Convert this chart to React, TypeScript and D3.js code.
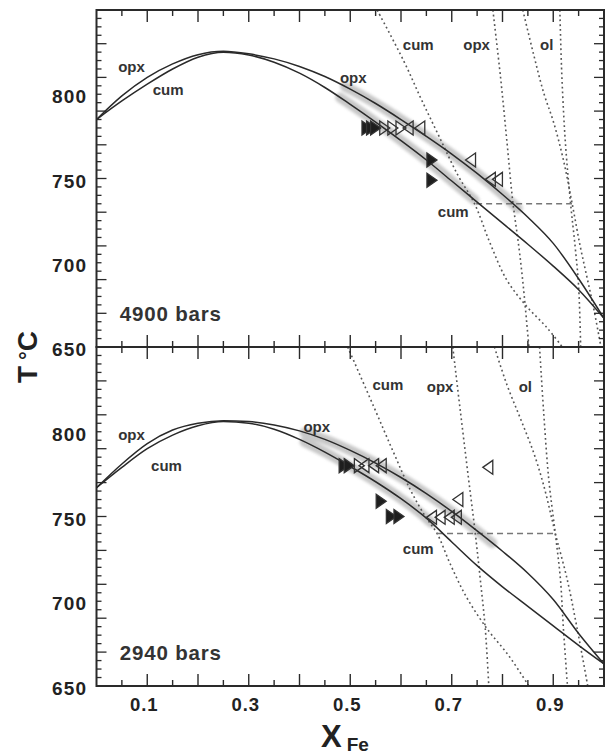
import * as d3 from "d3";

type Pt = [number, number];
type Mark = [number, number, "fillR" | "openR" | "openL"];

// axis labels
const xTickLabels = [0.1, 0.3, 0.5, 0.7, 0.9];
const yTickLabels = [650, 700, 750, 800];

// ---- 4900 bars ----
const opx4900: Pt[] = [
  [0, 785], [0.05, 799], [0.1, 810], [0.15, 818], [0.2, 823.5], [0.25, 825.5], [0.3, 824],
  [0.35, 821], [0.4, 816.5], [0.45, 810.5], [0.5, 803], [0.55, 794.5], [0.6, 785], [0.65, 775],
  [0.7, 764.5], [0.75, 753], [0.8, 740.5], [0.85, 727], [0.9, 711.5], [0.95, 690.5], [1, 667],
];
const cum4900: Pt[] = [
  [0, 785], [0.05, 796], [0.1, 806], [0.15, 815], [0.2, 822], [0.25, 825], [0.3, 823.3],
  [0.35, 819], [0.4, 812.5], [0.45, 804], [0.5, 794], [0.55, 783.5], [0.6, 772.5], [0.65, 761],
  [0.7, 748.5], [0.75, 736], [0.8, 723.5], [0.85, 711], [0.9, 698], [0.95, 684], [1, 667],
];
const cumIso4900: Pt[] = [
  [0.553, 850], [0.605, 820], [0.64, 797], [0.675, 775], [0.712, 752], [0.745, 735],
  [0.775, 712], [0.808, 690], [0.848, 674], [0.886, 662], [0.918, 650],
];
const opxIso4900: Pt[] = [
  [0.781, 850], [0.796, 810.5], [0.809, 771], [0.82, 737], [0.832, 710], [0.841, 686], [0.852, 650],
];
const olIsoA4900: Pt[] = [
  [0.84, 850], [0.861, 824], [0.881, 801], [0.901, 783], [0.92, 761], [0.937, 735.5],
  [0.953, 710], [0.966, 692], [0.979, 674], [0.994, 650],
];
const olIsoB4900: Pt[] = [
  [0.913, 850], [0.917, 810.5], [0.924, 771], [0.934, 735.5], [0.943, 710], [0.95, 686], [0.954, 650],
];
const tie4900: Pt[] = [[0.748, 735], [0.937, 735]];
const band4900 = { opx: [0.49, 0.83], cum: [0.48, 0.745] };
const marks4900: Mark[] = [
  [0.533, 780, "fillR"], [0.542, 780, "fillR"], [0.55, 780, "fillR"],
  [0.568, 780, "openR"], [0.584, 780, "openR"], [0.6, 780, "openR"],
  [0.614, 780, "openL"], [0.637, 780, "openL"],
  [0.661, 761, "fillR"], [0.661, 749, "fillR"],
  [0.737, 761, "openL"], [0.776, 749.5, "openL"], [0.79, 749.5, "openL"],
];
const notes4900: [string, number, number][] = [
  ["opx", 0.069, 816], ["cum", 0.141, 802.5], ["opx", 0.506, 809.5],
  ["cum", 0.634, 829], ["opx", 0.749, 829], ["ol", 0.887, 829], ["cum", 0.703, 730],
];

// ---- 2940 bars ----
const opx2940: Pt[] = [
  [0, 767], [0.05, 781], [0.1, 793], [0.15, 801], [0.2, 805], [0.25, 806.5], [0.3, 806],
  [0.35, 804], [0.4, 800.5], [0.45, 795.5], [0.5, 789], [0.55, 781.5], [0.6, 773], [0.65, 763.5],
  [0.7, 753], [0.75, 741.5], [0.8, 729.5], [0.85, 716.5], [0.9, 701], [0.95, 681], [1, 663],
];
const cum2940: Pt[] = [
  [0, 767], [0.05, 779], [0.1, 790], [0.15, 798], [0.2, 803.5], [0.25, 806], [0.3, 805],
  [0.35, 801.5], [0.4, 795.5], [0.45, 788], [0.5, 779.5], [0.55, 770.5], [0.6, 760.5], [0.65, 749],
  [0.7, 735], [0.75, 721], [0.8, 708.5], [0.85, 697], [0.9, 685.5], [0.95, 674], [1, 663],
];
const cumIso2940: Pt[] = [
  [0.495, 850], [0.546, 815], [0.585, 788], [0.618, 766], [0.648, 750], [0.671, 740],
  [0.697, 722], [0.728, 703], [0.769, 684], [0.812, 668], [0.852, 650],
];
const opxIso2940: Pt[] = [
  [0.702, 850], [0.717, 812], [0.733, 772.5], [0.746, 741], [0.756, 713.5], [0.766, 684], [0.773, 650],
];
const olIsoA2940: Pt[] = [
  [0.784, 850], [0.809, 827.5], [0.835, 808], [0.861, 788], [0.881, 768.5], [0.897, 749],
  [0.904, 740], [0.927, 713.5], [0.947, 684], [0.968, 650],
];
const olIsoB2940: Pt[] = [
  [0.873, 850], [0.881, 812], [0.891, 772.5], [0.904, 740], [0.914, 713.5], [0.92, 684], [0.928, 650],
];
const tie2940: Pt[] = [[0.671, 740], [0.904, 740]];
const band2940 = { opx: [0.41, 0.78], cum: [0.41, 0.66] };
const marks2940: Mark[] = [
  [0.488, 780, "fillR"], [0.498, 780, "fillR"],
  [0.518, 780, "openR"], [0.527, 780, "openL"], [0.546, 780, "openL"], [0.561, 780, "openL"],
  [0.561, 759, "fillR"], [0.581, 750, "fillR"], [0.596, 750, "fillR"],
  [0.771, 779, "openL"], [0.712, 760, "openL"],
  [0.66, 749.5, "openL"], [0.677, 749.5, "openL"], [0.695, 749.5, "openL"], [0.709, 749.5, "openL"],
];
const notes2940: [string, number, number][] = [
  ["opx", 0.069, 798], ["cum", 0.138, 780], ["opx", 0.434, 803],
  ["cum", 0.574, 827.5], ["opx", 0.677, 826.5], ["ol", 0.845, 826.5], ["cum", 0.634, 731],
];

const x = d3.scaleLinear().domain([0, 1]).range([96.5, 604]);
const ink = "#2a2a2a";
const font = "'Liberation Sans', Arial, Helvetica, sans-serif";

function interpAt(pts: Pt[], v: number) {
  for (let i = 0; i < pts.length - 1; i++) {
    const [x0, y0] = pts[i];
    const [x1, y1] = pts[i + 1];
    if (v >= x0 && v <= x1) return y0 + ((v - x0) / (x1 - x0)) * (y1 - y0);
  }
  return pts[pts.length - 1][1];
}

function segment(pts: Pt[], a: number, b: number): Pt[] {
  const out: Pt[] = [[a, interpAt(pts, a)]];
  pts.forEach((p) => {
    if (p[0] > a && p[0] < b) out.push(p);
  });
  out.push([b, interpAt(pts, b)]);
  return out;
}

function triangle(kind: string) {
  const w = 10, h = 14;
  if (kind === "openL") return `M${w / 2},${-h / 2}L${-w / 2},0L${w / 2},${h / 2}Z`;
  return `M${-w / 2},${-h / 2}L${w / 2},0L${-w / 2},${h / 2}Z`;
}

interface PanelProps {
  id: string;
  top: number;
  bottom: number;
  title: string;
  opx: Pt[];
  cum: Pt[];
  isos: Pt[][];
  tie: Pt[];
  band: { opx: number[]; cum: number[] };
  marks: Mark[];
  notes: [string, number, number][];
}

function Panel({ id, top, bottom, title, opx, cum, isos, tie, band, marks, notes }: PanelProps) {
  const y = d3.scaleLinear().domain([650, 850]).range([bottom, top]);
  // loop curves are single valued in X, so a monotone curve keeps them smooth
  const loop = d3
    .line<Pt>()
    .x((d) => x(d[0]))
    .y((d) => y(d[1]))
    .curve(d3.curveMonotoneX);
  const iso = d3
    .line<Pt>()
    .x((d) => x(d[0]))
    .y((d) => y(d[1]))
    .curve(d3.curveCatmullRom.alpha(0.5));
  const [x0, x1] = x.range();

  const xTicks = d3.range(0, 1.0001, 0.05).map((v) => +v.toFixed(2)).filter((v) => v > 0 && v < 1);
  const yTicks = d3.range(655, 850, 5);

  return (
    <g>
      <defs>
        <clipPath id={`clip-${id}`}>
          <rect x={x0} y={top} width={x1 - x0} height={bottom - top} />
        </clipPath>
      </defs>
      <g clipPath={`url(#clip-${id})`}>
        {/* uncertainty bands */}
        <g filter="url(#blur)" opacity={0.55}>
          <path d={loop(segment(opx, band.opx[0], band.opx[1])) || ""} fill="none" stroke="#9a9a9a" strokeWidth={10} strokeLinecap="round" />
          <path d={loop(segment(cum, band.cum[0], band.cum[1])) || ""} fill="none" stroke="#9a9a9a" strokeWidth={10} strokeLinecap="round" />
        </g>
        {isos.map((pts, i) => (
          <path key={i} d={iso(pts) || ""} fill="none" stroke="#555" strokeWidth={1.6} strokeDasharray="1.8,3" />
        ))}
        <path d={iso(tie) || ""} fill="none" stroke="#777" strokeWidth={1.5} strokeDasharray="6,4" />
        <path d={loop(opx) || ""} fill="none" stroke={ink} strokeWidth={1.5} />
        <path d={loop(cum) || ""} fill="none" stroke={ink} strokeWidth={1.5} />
        {marks.map(([mx, mt, kind], i) => (
          <path
            key={i}
            d={triangle(kind)}
            transform={`translate(${x(mx)},${y(mt)})`}
            fill={kind === "fillR" ? "#1e1e1e" : "none"}
            stroke="#333"
            strokeWidth={1.3}
          />
        ))}
      </g>
      {notes.map(([t, nx, nt], i) => (
        <text key={i} x={x(nx)} y={y(nt) + 5} textAnchor="middle" fontSize={15} fontWeight="bold" fill="#333" fontFamily={font}>
          {t}
        </text>
      ))}
      <text x={x(0.046)} y={y(650) - 26} fontSize={20.5} fontWeight="bold" fill="#333" fontFamily={font} letterSpacing={0.8}>
        {title}
      </text>
      {/* frame */}
      <rect x={x0} y={top} width={x1 - x0} height={bottom - top} fill="none" stroke={ink} strokeWidth={2} />
      {xTicks.map((v) => {
        const r = Math.abs((v * 10) % 1);
        const len = r < 0.01 || r > 0.99 ? 12 : 6;
        return (
          <g key={v} stroke={ink} strokeWidth={1.4}>
            <line x1={x(v)} x2={x(v)} y1={top} y2={top + len} />
            <line x1={x(v)} x2={x(v)} y1={bottom} y2={bottom - len} />
          </g>
        );
      })}
      {yTicks.map((t) => {
        const len = (t - 650) % 20 === 0 ? 10 : 5;
        return (
          <g key={t} stroke={ink} strokeWidth={1.3}>
            <line x1={x0} x2={x0 + len} y1={y(t)} y2={y(t)} />
            <line x1={x1} x2={x1 - len} y1={y(t)} y2={y(t)} />
          </g>
        );
      })}
      {yTickLabels.map((t) => (
        <text key={t} x={x0 - 9} y={y(t) + 9} textAnchor="end" fontSize={19} fontWeight="bold" fill="#222" fontFamily={font} letterSpacing={1.3}>
          {t}
        </text>
      ))}
    </g>
  );
}

export default function App() {
  const bottomY = 686;
  return (
    <svg width={605} height={756} style={{ position: "absolute", left: 0, top: 0, background: "#fff" }}>
      <defs>
        <filter id="blur" x="-10%" y="-10%" width="120%" height="120%">
          <feGaussianBlur stdDeviation={1.8} />
        </filter>
      </defs>
      <rect width={605} height={756} fill="#fff" />
      <Panel
        id="p4900"
        top={10}
        bottom={347}
        title="4900 bars"
        opx={opx4900}
        cum={cum4900}
        isos={[cumIso4900, opxIso4900, olIsoA4900, olIsoB4900]}
        tie={tie4900}
        band={band4900}
        marks={marks4900}
        notes={notes4900}
      />
      <Panel
        id="p2940"
        top={347}
        bottom={bottomY}
        title="2940 bars"
        opx={opx2940}
        cum={cum2940}
        isos={[cumIso2940, opxIso2940, olIsoA2940, olIsoB2940]}
        tie={tie2940}
        band={band2940}
        marks={marks2940}
        notes={notes2940}
      />
      {xTickLabels.map((v) => (
        <text key={v} x={x(v) - 3} y={bottomY + 25} textAnchor="middle" fontSize={18.5} fontWeight="bold" fill="#222" fontFamily={font} letterSpacing={1}>
          {v.toFixed(1)}
        </text>
      ))}
      <text x={321} y={747} fontSize={31} fontWeight="bold" fill="#222" fontFamily={font}>
        X
        <tspan dx={5} dy={4} fontSize={19}>Fe</tspan>
      </text>
      <text transform="translate(37,357) rotate(-90)" textAnchor="middle" fontSize={28} fontWeight="bold" fill="#222" fontFamily={font}>
        T
        <tspan dx={6} fontSize={22} dy={-2}>°</tspan>
        <tspan dy={2}>C</tspan>
      </text>
    </svg>
  );
}
